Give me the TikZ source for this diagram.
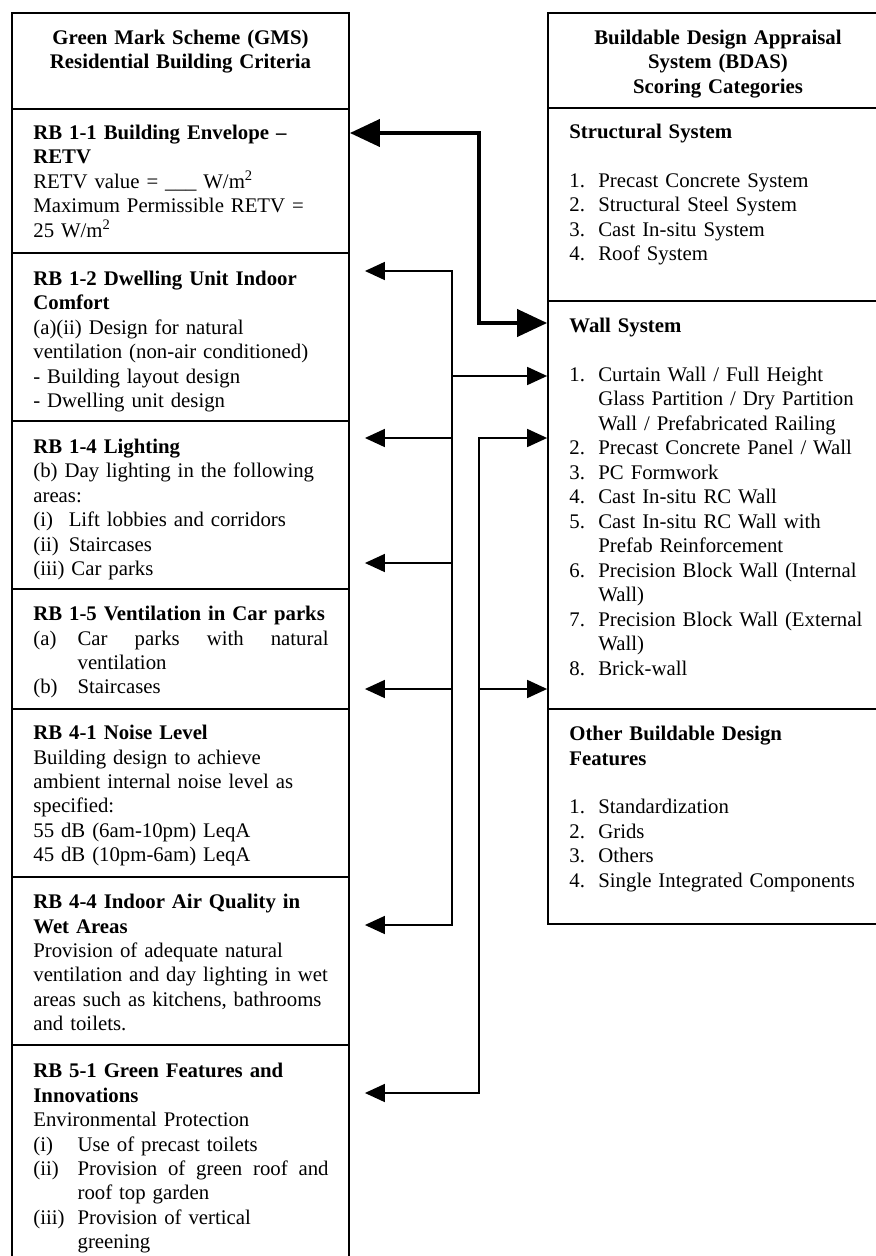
\documentclass[tikz,border=0pt]{standalone}
\usepackage{fontspec}
\setmainfont{Liberation Serif}
\usetikzlibrary{arrows.meta,fit}

\newcommand{\lab}[2]{\makebox[#1][l]{#2}}

\tikzset{
  frame/.style={draw, line width=1pt, inner sep=0pt},
  txt/.style={anchor=north west, inner sep=0pt, text width=176pt, align=left,
    font=\fontsize{11.75pt}{13.84pt}\selectfont, execute at begin node=\strut},
  head/.style={txt, anchor=north, align=center},
  link/.style={line width=0.85pt, >={Triangle[length=11.3pt,width=10.2pt]}},
  biglink/.style={line width=2.3pt, >={Triangle[length=17pt,width=15.3pt]}},
}

\begin{document}
\begin{tikzpicture}[x=0.565pt, y=-0.565pt]
  \useasboundingbox (0,0) rectangle (875,1256);

  % GMS column
  \node[frame, fit={(12,13) (349,109)}] (gms) {};
  \node[frame, fit={(12,109) (349,253)}] (rb11) {};
  \node[frame, fit={(12,253) (349,421)}] (rb12) {};
  \node[frame, fit={(12,421) (349,589)}] (rb14) {};
  \node[frame, fit={(12,589) (349,709)}] (rb15) {};
  \node[frame, fit={(12,709) (349,877)}] (rb41) {};
  \node[frame, fit={(12,877) (349,1045)}] (rb44) {};
  \node[frame, fit={(12,1045) (349,1262)}] (rb51) {};

  \node[head] (gmstxt) at (180.5,27)
    {\textbf{Green Mark Scheme (GMS)\\Residential Building Criteria}};
  \node[txt] (rb11txt) at (33,122)
    {\textbf{RB 1-1 Building Envelope --\\RETV}\\
     RETV value = \_\_\_ W/m\textsuperscript{2}\\
     Maximum Permissible RETV =\\
     25 W/m\textsuperscript{2}};
  \node[txt] (rb12txt) at (33,268)
    {\textbf{RB 1-2 Dwelling Unit Indoor\\Comfort}\\
     (a)(ii) Design for natural\\
     ventilation (non-air conditioned)\\
     - Building layout design\\
     - Dwelling unit design};
  \node[txt] (rb14txt) at (33,436)
    {\textbf{RB 1-4 Lighting}\\
     (b) Day lighting in the following\\
     areas:\\
     \lab{20pt}{(i)}Lift lobbies and corridors\\
     \lab{20pt}{(ii)}Staircases\\
     (iii) Car parks};
  \node[txt] (rb15txt) at (33,603)
    {\textbf{RB 1-5 Ventilation in Car parks}\\
     \lab{25pt}{(a)}\makebox[141.8pt][s]{Car\hfill parks\hfill with\hfill natural}\\
     \hspace*{25pt}ventilation\\
     \lab{25pt}{(b)}Staircases};
  \node[txt] (rb41txt) at (33,722)
    {\textbf{RB 4-1 Noise Level}\\
     Building design to achieve\\
     ambient internal noise level as\\
     specified:\\
     55 dB (6am-10pm) LeqA\\
     45 dB (10pm-6am) LeqA};
  \node[txt] (rb44txt) at (33,891)
    {\textbf{RB 4-4 Indoor Air Quality in\\Wet Areas}\\
     Provision of adequate natural\\
     ventilation and day lighting in wet\\
     areas such as kitchens, bathrooms\\
     and toilets.};
  \node[txt] (rb51txt) at (33,1060)
    {\textbf{RB 5-1 Green Features and\\Innovations}\\
     Environmental Protection\\
     \lab{25pt}{(i)}Use of precast toilets\\
     \lab{25pt}{(ii)}\makebox[141.8pt][s]{Provision\hfill of\hfill green\hfill roof\hfill and}\\
     \hspace*{25pt}roof top garden\\
     \lab{25pt}{(iii)}Provision of vertical\\
     \hspace*{25pt}greening};

  % BDAS column
  \node[frame, fit={(548,13) (888,108)}] (bdas) {};
  \node[frame, fit={(548,108) (888,301)}] (sss) {};
  \node[frame, fit={(548,301) (888,709)}] (wss) {};
  \node[frame, fit={(548,709) (888,924)}] (obdf) {};

  \node[head] (bdastxt) at (718,27)
    {\textbf{Buildable Design Appraisal\\System (BDAS)\\Scoring Categories}};
  \node[txt] (ssstxt) at (569,121)
    {\textbf{Structural System}\\[13.84pt]
     \lab{16.4pt}{1.}Precast Concrete System\\
     \lab{16.4pt}{2.}Structural Steel System\\
     \lab{16.4pt}{3.}Cast In-situ System\\
     \lab{16.4pt}{4.}Roof System};
  \node[txt] (wsstxt) at (569,315)
    {\textbf{Wall System}\\[13.84pt]
     \lab{16.4pt}{1.}Curtain Wall / Full Height\\
     \hspace*{16.4pt}Glass Partition / Dry Partition\\
     \hspace*{16.4pt}Wall / Prefabricated Railing\\
     \lab{16.4pt}{2.}Precast Concrete Panel / Wall\\
     \lab{16.4pt}{3.}PC Formwork\\
     \lab{16.4pt}{4.}Cast In-situ RC Wall\\
     \lab{16.4pt}{5.}Cast In-situ RC Wall with\\
     \hspace*{16.4pt}Prefab Reinforcement\\
     \lab{16.4pt}{6.}Precision Block Wall (Internal\\
     \hspace*{16.4pt}Wall)\\
     \lab{16.4pt}{7.}Precision Block Wall (External\\
     \hspace*{16.4pt}Wall)\\
     \lab{16.4pt}{8.}Brick-wall};
  \node[txt] (obdftxt) at (569,723)
    {\textbf{Other Buildable Design\\Features}\\[13.84pt]
     \lab{16.4pt}{1.}Standardization\\
     \lab{16.4pt}{2.}Grids\\
     \lab{16.4pt}{3.}Others\\
     \lab{16.4pt}{4.}Single Integrated Components};

  % junctions
  \coordinate (t1) at (479,133);
  \coordinate (t2) at (479,323);
  \coordinate (a1) at (452,271);
  \coordinate (a2) at (452,376);
  \coordinate (a3) at (452,438);
  \coordinate (a4) at (452,563);
  \coordinate (a5) at (452,689);
  \coordinate (a6) at (452,925);
  \coordinate (b1) at (479,438);
  \coordinate (b2) at (479,689);
  \coordinate (b3) at (479,1093);

  % connectors
  \draw[biglink, <->] (rb11.east |- t1) -- (t1) -- (t2) -- (wss.west |- t2);

  \draw[link, <->, shorten <=8.5pt, shorten >=8.5pt]
    (rb12.east |- a1) -- (a1) -- (a6) -- (rb44.east |- a6);
  \draw[link, ->] (a2) -- (wss.west |- a2);
  \draw[link, ->, shorten >=8.5pt] (a3) -- (rb14.east |- a3);
  \draw[link, ->, shorten >=8.5pt] (a4) -- (rb15.east |- a4);
  \draw[link, ->, shorten >=8.5pt] (a5) -- (rb41.east |- a5);

  \draw[link, <->, shorten >=8.5pt]
    (wss.west |- b1) -- (b1) -- (b3) -- (rb51.east |- b3);
  \draw[link, ->] (b2) -- (obdf.west |- b2);
\end{tikzpicture}
\end{document}
